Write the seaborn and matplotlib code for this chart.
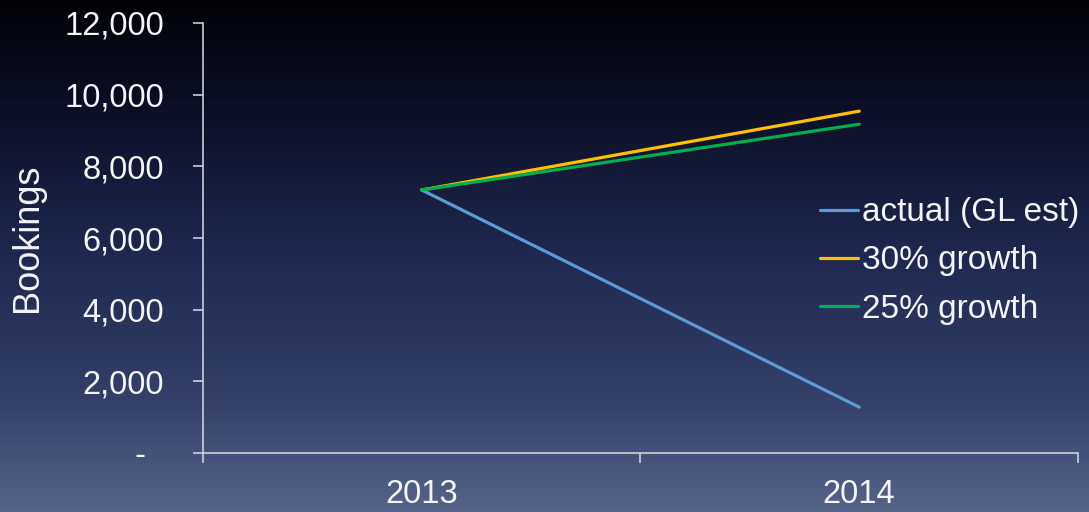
import numpy as np
import pandas as pd
import matplotlib
matplotlib.use("Agg")
import matplotlib.pyplot as plt
from matplotlib.colors import LinearSegmentedColormap
from matplotlib.ticker import FixedLocator
import seaborn as sns

# Bookings by year for each scenario
years = [2013, 2014]
actual = [7340, 1280]
growth_30 = [7340, 9540]
growth_25 = [7340, 9175]
series_names = ["actual (GL est)", "30% growth", "25% growth"]
series_colors = ["#5b9bd5", "#ffc000", "#00b050"]
y_ticks = [0, 2000, 4000, 6000, 8000, 10000, 12000]
y_tick_labels = ["-  ", "2,000", "4,000", "6,000", "8,000", "10,000", "12,000"]
x_tick_labels = ["2013", "2014"]

df = pd.DataFrame({
    "year": years * 3,
    "bookings": actual + growth_30 + growth_25,
    "series": [series_names[0]] * 2 + [series_names[1]] * 2 + [series_names[2]] * 2,
})

sns.set_theme(style="white")
plt.rcParams["font.family"] = ["Liberation Sans", "DejaVu Sans"]

fig = plt.figure(figsize=(10.89, 5.12), dpi=100)

# dark navy vertical gradient backdrop
bg = fig.add_axes([0, 0, 1, 1], zorder=0)
grad_cmap = LinearSegmentedColormap.from_list(
    "navy", [(0.0, "#020207"), (0.2, "#0b0e24"), (0.5, "#1f2850"),
             (0.8, "#36426c"), (1.0, "#56648a")])
grad = np.linspace(0, 1, 256).reshape(-1, 1)
bg.imshow(grad, aspect="auto", cmap=grad_cmap, extent=[0, 1, 0, 1], origin="upper")
bg.set_axis_off()

ax = fig.add_axes([0.1864, 0.1152, 0.8035, 0.8399], zorder=1)
ax.set_facecolor("none")

sns.lineplot(data=df, x="year", y="bookings", hue="series",
             hue_order=series_names, palette=series_colors,
             linewidth=2.3, ax=ax, legend=True)

ax.set_xlim(2012.5, 2014.5)
ax.set_ylim(0, 12000)

axis_color = "#d9dbe2"
text_color = "#f4f4f6"
for side in ["top", "right"]:
    ax.spines[side].set_visible(False)
for side in ["left", "bottom"]:
    ax.spines[side].set_color(axis_color)
    ax.spines[side].set_linewidth(1.1)

ax.set_yticks(y_ticks)
ax.set_yticklabels(y_tick_labels)
ax.set_xticks(years)
ax.set_xticklabels(x_tick_labels)
ax.xaxis.set_minor_locator(FixedLocator([2012.5, 2013.5, 2014.5]))

ax.tick_params(axis="y", which="major", direction="out", length=7.2, width=1.1,
               color=axis_color, labelcolor=text_color, labelsize=23.5, pad=21, left=True)
ax.tick_params(axis="x", which="major", length=0, labelcolor=text_color,
               labelsize=23.5, pad=19)
ax.tick_params(axis="x", which="minor", direction="out", length=7, width=1.1,
               color=axis_color, bottom=True)

ax.set_xlabel("")
ax.set_ylabel("Bookings", color=text_color, fontsize=26, labelpad=13.5)
ax.grid(False)

leg = ax.legend(loc="center left", bbox_to_anchor=(820 / 1089, 1 - 261 / 512),
                bbox_transform=fig.transFigure, frameon=False, fontsize=24,
                handlelength=1.15, handletextpad=0.1, labelspacing=0.52,
                borderpad=0, borderaxespad=0)
for t in leg.get_texts():
    t.set_color(text_color)
for h in leg.get_lines():
    h.set_linewidth(2.3)

fig.savefig("out.png", dpi=100)
